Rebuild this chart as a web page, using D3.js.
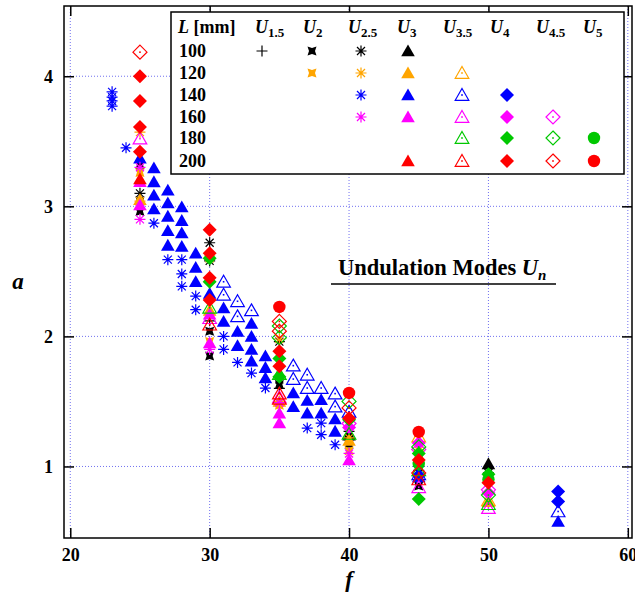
<!DOCTYPE html>
<html>
<head>
<meta charset="utf-8">
<script src="https://cdn.jsdelivr.net/npm/d3@7"></script>
<style>
    body { margin: 0; background: #fff; }
    text { font-family: "Liberation Serif", "Times New Roman", serif; font-weight: bold; }
</style>
</head>
<body>
<div id="chart"></div>
<script>

// Axis ticks
const xTicks = [20, 30, 40, 50, 60];
const yTicks = [1, 2, 3, 4];

// Legend rows / columns
const lengths = [100, 120, 140, 160, 180, 200];
const lengthColors = ["#000000", "#ffa500", "#0000ff", "#ff00ff", "#00c800", "#ff0000"];
const modes = ["1.5", "2", "2.5", "3", "3.5", "4", "4.5", "5"];
const modeShapes = ["plus", "bowtie", "star", "tri", "otri", "dia", "odia", "circ"];

// L = 100 mm
const u15_100 = [[30, 2.12], [35, 1.60], [40, 1.21], [45, 0.97]];
const u2_100 = [[25, 3.32], [25, 3.04], [25, 2.96], [30, 2.04], [30, 1.85], [35, 1.63], [40, 1.17], [45, 0.85]];
const u25_100 = [[25, 3.10], [30, 2.72], [30, 2.58], [35, 1.96], [35, 1.67], [40, 1.27], [45, 1.00], [50, 0.95]];
const u3_100 = [[40, 1.24], [50, 1.02]];

// L = 120 mm
const u2_120 = [[25, 3.26], [30, 2.60], [30, 1.96], [35, 1.47], [40, 1.12], [45, 1.10]];
const u25_120 = [[25, 3.57], [25, 3.04], [30, 2.62], [35, 1.98], [40, 1.22], [45, 1.12]];
const u3_120 = [[25, 3.05], [30, 2.20], [35, 1.50], [40, 1.20], [50, 0.73]];
const u35_120 = [[45, 1.23], [50, 0.74]];

// L = 140 mm
const u25_140 = [[23, 3.88], [23, 3.84], [23, 3.81], [23, 3.77], [24, 3.45], [26, 2.87], [27, 2.59],
    [28, 2.59], [28, 2.48], [28, 2.385], [29, 2.31], [29, 2.205], [31, 2.00], [31, 1.90], [32, 1.80],
    [33, 1.718], [34, 1.603], [37, 1.295], [38, 1.333], [38, 1.244], [39, 1.167]];
const u3_140 = [[25, 3.37], [26, 3.295], [26, 3.188], [26, 3.085], [26, 2.98], [27, 3.123], [27, 3.026],
    [27, 2.923], [27, 2.813], [27, 2.70], [28, 2.995], [28, 2.89], [28, 2.795], [28, 2.692], [29, 2.64],
    [29, 2.53], [29, 2.42], [30, 2.33], [31, 2.218], [31, 2.115], [32, 2.038], [32, 1.928], [33, 2.10],
    [33, 2.00], [33, 1.90], [33, 1.81], [34, 1.85], [34, 1.76], [34, 1.68], [36, 1.565], [36, 1.46],
    [37, 1.508], [37, 1.41], [38, 1.513], [38, 1.41], [39, 1.365], [39, 1.27], [45, 0.92], [55, 0.577]];
const u35_140 = [[31, 2.42], [31, 2.32], [32, 2.27], [32, 2.154], [33, 2.20], [36, 1.775], [36, 1.672],
    [37, 1.705], [37, 1.603], [38, 1.603], [39, 1.56], [39, 1.46], [40, 1.42], [45, 0.94], [55, 0.654]];
const u4_140 = [[45, 0.93], [55, 0.808], [55, 0.731]];

// L = 160 mm
const u25_160 = [[25, 3.30], [25, 2.90], [30, 1.90], [35, 1.49], [40, 1.10]];
const u3_160 = [[25, 3.19], [25, 3.01], [30, 2.17], [30, 1.95], [35, 1.41], [35, 1.334], [40, 1.05]];
const u35_160 = [[25, 3.52], [30, 2.14], [35, 1.53], [45, 0.84], [50, 0.68]];
const u4_160 = [[40, 1.30], [45, 1.18], [50, 0.795]];
const u45_160 = [[40, 1.33], [45, 1.13], [50, 0.82]];

// L = 180 mm
const u35_180 = [[30, 2.22], [35, 1.71], [40, 1.25], [45, 0.97], [50, 0.71]];
const u4_180 = [[30, 2.60], [30, 2.42], [35, 1.83], [35, 1.69], [40, 1.36], [45, 1.10], [45, 0.749], [50, 0.94]];
const u45_180 = [[35, 2.08], [35, 1.99], [40, 1.50], [45, 1.15], [50, 0.78]];
const u5_180 = [[45, 1.02], [50, 0.90]];

// L = 200 mm
const u3_200 = [[25, 3.21]];
const u35_200 = [[30, 2.09], [35, 1.56], [35, 1.52], [45, 0.90]];
const u4_200 = [[25, 4.00], [25, 3.81], [25, 3.61], [25, 3.42], [30, 2.82], [30, 2.64], [30, 2.45], [30, 2.28],
    [35, 1.885], [35, 1.77], [40, 1.37], [45, 1.05], [50, 0.875]];
const u45_200 = [[25, 4.185], [35, 2.115], [35, 2.04], [40, 1.45], [45, 0.95]];
const u5_200 = [[35, 2.226], [40, 1.565], [45, 1.265]];

const series = [
    {L: 100, mode: "1.5", data: u15_100}, {L: 100, mode: "2", data: u2_100},
    {L: 100, mode: "2.5", data: u25_100}, {L: 100, mode: "3", data: u3_100},
    {L: 120, mode: "2", data: u2_120}, {L: 120, mode: "2.5", data: u25_120},
    {L: 120, mode: "3", data: u3_120}, {L: 120, mode: "3.5", data: u35_120},
    {L: 140, mode: "2.5", data: u25_140}, {L: 140, mode: "3", data: u3_140},
    {L: 140, mode: "3.5", data: u35_140}, {L: 140, mode: "4", data: u4_140},
    {L: 160, mode: "2.5", data: u25_160}, {L: 160, mode: "3", data: u3_160},
    {L: 160, mode: "3.5", data: u35_160}, {L: 160, mode: "4", data: u4_160},
    {L: 160, mode: "4.5", data: u45_160},
    {L: 180, mode: "3.5", data: u35_180}, {L: 180, mode: "4", data: u4_180},
    {L: 180, mode: "4.5", data: u45_180}, {L: 180, mode: "5", data: u5_180},
    {L: 200, mode: "3", data: u3_200}, {L: 200, mode: "3.5", data: u35_200},
    {L: 200, mode: "4", data: u4_200}, {L: 200, mode: "4.5", data: u45_200},
    {L: 200, mode: "5", data: u5_200}
];

const width = 635;
const height = 595;
const plot = {left: 64, right: 632, top: 6, bottom: 538};

const x = d3.scaleLinear().domain([19.55, 60.3]).range([plot.left, plot.right]);
const y = d3.scaleLinear().domain([0.45, 4.54]).range([plot.bottom, plot.top]);

const colorOf = d3.scaleOrdinal().domain(lengths).range(lengthColors);
const shapeOf = d3.scaleOrdinal().domain(modes).range(modeShapes);

const svg = d3.select("#chart").append("svg")
    .attr("width", width)
    .attr("height", height);

svg.append("rect").attr("width", width).attr("height", height).attr("fill", "#fff");

// Dotted grid
const grid = svg.append("g").attr("stroke", "#7070f0").attr("stroke-width", 1).attr("stroke-dasharray", "1,2");
grid.selectAll("line.gx").data(xTicks).join("line")
    .attr("x1", d => x(d)).attr("x2", d => x(d))
    .attr("y1", plot.top).attr("y2", plot.bottom);
grid.selectAll("line.gy").data(yTicks).join("line")
    .attr("x1", plot.left).attr("x2", plot.right)
    .attr("y1", d => y(d)).attr("y2", d => y(d));

// Axes with inward ticks on all sides
function styleAxis(g) {
    g.select(".domain").remove();
    g.selectAll(".tick line").attr("stroke", "#000").attr("stroke-width", 1.5);
    g.selectAll(".tick text").attr("font-size", 18).attr("fill", "#000")
        .style("font-family", "'Liberation Serif', serif").style("font-weight", "bold");
}

svg.append("g").attr("transform", `translate(0,${plot.bottom})`)
    .call(d3.axisBottom(x).tickValues(xTicks).tickFormat(d3.format("d")).tickSize(-10).tickPadding(10))
    .call(styleAxis);
svg.append("g").attr("transform", `translate(0,${plot.top})`)
    .call(d3.axisTop(x).tickValues(xTicks).tickSize(-10).tickFormat(""))
    .call(styleAxis);
svg.append("g").attr("transform", `translate(${plot.left},0)`)
    .call(d3.axisLeft(y).tickValues(yTicks).tickFormat(d3.format("d")).tickSize(-10).tickPadding(11))
    .call(styleAxis);
svg.append("g").attr("transform", `translate(${plot.right},0)`)
    .call(d3.axisRight(y).tickValues(yTicks).tickSize(-10).tickFormat(""))
    .call(styleAxis);

// Marker shapes
const shapePaths = {
    plus: "M-5.5,0H5.5M0,-5.5V5.5",
    star: "M-5.5,0H5.5M0,-5.5V5.5M-4,-4L4,4M-4,4L4,-4",
    bowtie: "M-4.5,-4.5L0,-3L4.5,-4.5L3,0L4.5,4.5L0,3L-4.5,4.5L-3,0Z",
    tri: "M0,-6.5L6.8,5.3L-6.8,5.3Z",
    otri: "M0,-6.5L6.8,5.3L-6.8,5.3Z",
    dia: "M0,-7L7,0L0,7L-7,0Z",
    odia: "M0,-7L7,0L0,7L-7,0Z"
};

function addMarker(g, shape, color) {
    if (shape === "circ") {
        g.append("circle").attr("r", 6.2).attr("fill", color);
    } else if (shape === "plus" || shape === "star") {
        g.append("path").attr("d", shapePaths[shape]).attr("stroke", color)
            .attr("stroke-width", 1.2).attr("fill", "none");
    } else if (shape === "otri" || shape === "odia") {
        g.append("path").attr("d", shapePaths[shape]).attr("stroke", color)
            .attr("stroke-width", 1.2).attr("fill", "none");
        g.append("rect").attr("x", -0.8).attr("y", -0.8).attr("width", 1.6).attr("height", 1.6)
            .attr("fill", color);
    } else {
        g.append("path").attr("d", shapePaths[shape]).attr("fill", color);
    }
}

// Data points
const pts = svg.append("g");
series.forEach(s => {
    const color = colorOf(s.L);
    const shape = shapeOf(s.mode);
    pts.append("g").selectAll("g").data(s.data).join("g")
        .attr("transform", d => `translate(${x(d[0])},${y(d[1])})`)
        .each(function () { addMarker(d3.select(this), shape, color); });
});

// Plot frame
svg.append("rect")
    .attr("x", plot.left).attr("y", plot.top)
    .attr("width", plot.right - plot.left).attr("height", plot.bottom - plot.top)
    .attr("fill", "none").attr("stroke", "#000").attr("stroke-width", 1.5);

// Axis labels
svg.append("text").attr("x", x(40)).attr("y", 587).attr("text-anchor", "middle")
    .attr("font-size", 23).attr("font-style", "italic").text("f");
svg.append("text").attr("x", 18).attr("y", 289).attr("text-anchor", "middle")
    .attr("font-size", 23).attr("font-style", "italic").text("a");

// Title with underline
const title = svg.append("text").attr("x", 338).attr("y", 275).attr("font-size", 22.5);
title.append("tspan").text("Undulation Modes ");
title.append("tspan").attr("font-style", "italic").text("U");
title.append("tspan").attr("font-style", "italic").attr("font-size", 15).attr("dy", 5).text("n");
svg.append("line").attr("x1", 331).attr("x2", 556).attr("y1", 284).attr("y2", 284)
    .attr("stroke", "#000").attr("stroke-width", 1.5);

// Legend table
const legend = svg.append("g");
legend.append("rect").attr("x", 171).attr("y", 12).attr("width", 453).attr("height", 162)
    .attr("fill", "#fff").attr("stroke", "#000").attr("stroke-width", 1.5);

const colX = d3.scaleOrdinal().domain(modes).range([262, 312, 361, 408, 462, 507, 553, 594]);
const headX = d3.scaleOrdinal().domain(modes).range([255, 303, 348, 397, 443, 490, 536, 583]);
const rowY = d3.scaleOrdinal().domain(lengths).range([51, 73, 95, 117, 138, 161]);

const head = legend.append("text").attr("x", 178).attr("y", 33).attr("font-size", 18);
head.append("tspan").attr("font-style", "italic").text("L");
head.append("tspan").text(" [mm]");

modes.forEach(m => {
    const t = legend.append("text").attr("x", headX(m)).attr("y", 33).attr("font-size", 18);
    t.append("tspan").attr("font-style", "italic").text("U");
    t.append("tspan").attr("font-size", 13).attr("dy", 4).text(m);
});

lengths.forEach(L => {
    legend.append("text").attr("x", 179).attr("y", rowY(L) + 6).attr("font-size", 18).text(L);
});

series.forEach(s => {
    const g = legend.append("g").attr("transform", `translate(${colX(s.mode)},${rowY(s.L)})`);
    addMarker(g, shapeOf(s.mode), colorOf(s.L));
});

</script>
</body>
</html>
